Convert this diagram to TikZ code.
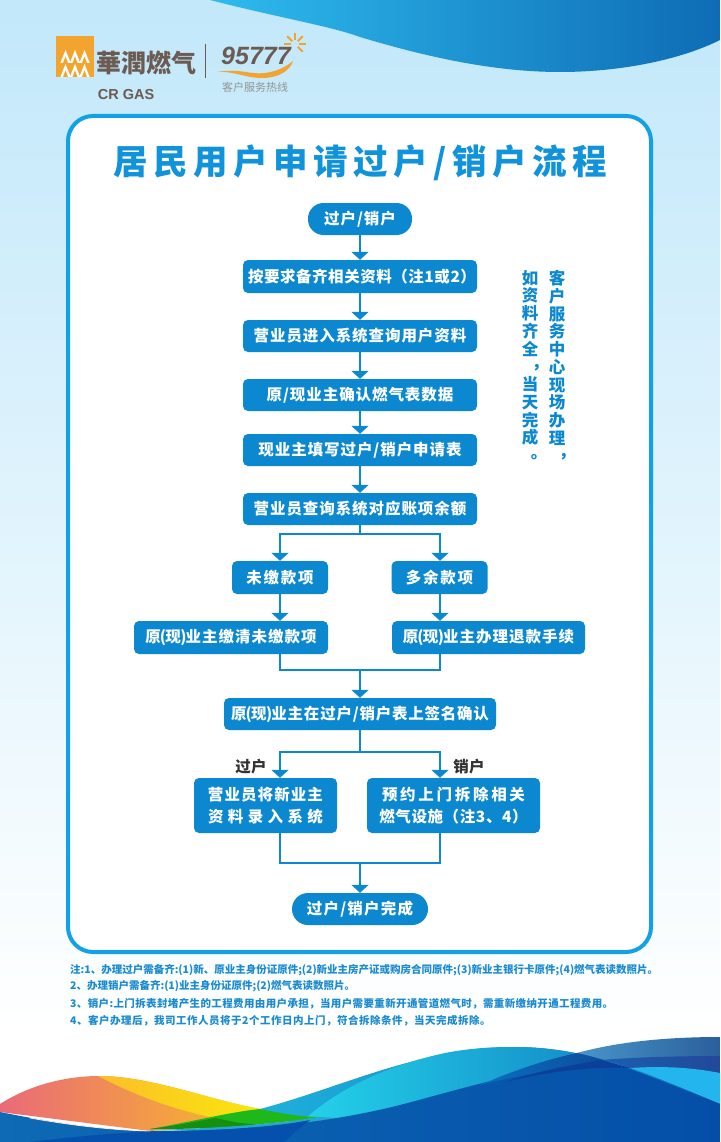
\documentclass[tikz,border=0pt]{standalone}
\usepackage{fontspec}
\setmainfont{Noto Sans CJK SC}
\newfontfamily\latinf{Liberation Sans}
\usetikzlibrary{arrows.meta,positioning}
\definecolor{flow}{HTML}{0C88D0}
\definecolor{frame}{HTML}{12A0E6}
\definecolor{titlec}{HTML}{1093DA}
\definecolor{brownlogo}{HTML}{6B5B53}
\definecolor{orangelogo}{HTML}{F3A42F}
\definecolor{notec}{HTML}{1A8BD0}
\definecolor{bgtop}{HTML}{C2E8FA}
\newcommand{\ls}[1]{\addfontfeature{LetterSpace=#1}}
\newcommand{\fsz}[1]{\fontsize{#1}{#1}\selectfont}
\newcommand{\vc}{\makebox[1em][l]{\hspace{.62em}\raisebox{.3em}{，}}}
\newcommand{\vp}{\makebox[1em][l]{\hspace{.55em}\raisebox{.2em}{。}}}
\newcommand{\yx}{{原\kern-1pt(\kern-.5pt现\kern-.5pt)\kern-1pt}}
\tikzset{
  x=1pt,y=-1pt,
  flowbox/.style={fill=flow,text=white,rounded corners=5pt,inner sep=0pt,font=\bfseries\fsz{15.5},align=center},
  flowpill/.style={flowbox,rounded corners=15.5pt},
  conn/.style={draw=flow,line width=2.4pt},
  arr/.style={conn,-{Triangle[width=17pt,length=8pt]}},
  notetext/.style={anchor=west,inner sep=0pt,text=notec,font=\bfseries\fsz{10.5}},
  sidetext/.style={inner sep=0pt,text=flow,align=center,anchor=north,font=\bfseries\fontsize{16.5}{17.75}\selectfont},
  branchlabel/.style={inner sep=0pt,text=black!80,font=\bfseries\fsz{15.5}},
}
\begin{document}
\begin{tikzpicture}
\useasboundingbox (0,0) rectangle (720,1142);
\clip (0,0) rectangle (720,1142);
% background
\shade[top color=bgtop,bottom color=white] (0,0) rectangle (720,1035);
\fill[white] (0,1035) rectangle (720,1142);
% top wave
\shade[left color={rgb,255:red,46;green,187;blue,238},right color={rgb,255:red,14;green,108;blue,181}]
  (210,0) .. controls (280,18) and (330,26) .. (360,37) .. controls (420,55) and (490,72) .. (560,72) .. controls (620,72) and (680,60) .. (720,40) -- (720,0) -- cycle;
% bottom waves
\shade[left color={rgb,255:red,74;green,152;blue,204},right color={rgb,255:red,42;green,95;blue,156}]
  (570,1055) .. controls (610,1043) and (660,1037) .. (720,1037) -- (720,1120) -- (570,1120) -- cycle;
\shade[left color={rgb,255:red,26;green,95;blue,176},right color={rgb,255:red,35;green,72;blue,154}]
  (600,1060) .. controls (640,1057) and (680,1056) .. (720,1056) -- (720,1080) -- (600,1080) -- cycle;
\fill[fill={rgb,255:red,34;green,181;blue,238}]
  (630,1068) .. controls (660,1066) and (690,1067) .. (720,1073) -- (720,1110) -- (650,1085) -- cycle;
\shade[left color={rgb,255:red,31;green,176;blue,220},right color={rgb,255:red,12;green,110;blue,181}]
  (260,1109) .. controls (340,1088) and (420,1047) .. (515,1047) .. controls (590,1047) and (650,1075) .. (720,1104) -- (720,1142) -- (260,1142) -- cycle;
\shade[left color={rgb,255:red,37;green,214;blue,236},right color={rgb,255:red,13;green,110;blue,185}]
  (285,1142) .. controls (310,1105) and (370,1068) .. (450,1052) .. controls (480,1047) and (500,1047) .. (515,1047) .. controls (590,1047) and (650,1075) .. (720,1104) -- (720,1142) -- cycle;
% orange
\shade[left color={rgb,255:red,233;green,106;blue,120},middle color={rgb,255:red,242;green,160;blue,58},right color={rgb,255:red,251;green,199;blue,28}]
  (0,1104) .. controls (30,1085) and (65,1076) .. (100,1076) .. controls (150,1076) and (210,1100) .. (260,1109) -- (290,1122) -- (150,1131) -- (0,1112) -- cycle;
\shade[left color={rgb,255:red,251;green,191;blue,42},right color={rgb,255:red,251;green,230;blue,12}]
  (98,1076) .. controls (150,1076) and (210,1100) .. (260,1109) -- (240,1116) -- (215,1118) .. controls (165,1108) and (125,1090) .. (98,1076) -- cycle;
% green
\fill[fill={rgb,255:red,31;green,184;blue,26}]
  (150,1129) .. controls (190,1122) and (230,1112) .. (260,1109) .. controls (280,1113) and (300,1117) .. (320,1117) .. controls (270,1125) and (200,1129) .. (150,1129) -- cycle;
\fill[fill={rgb,255:red,20;green,143;blue,16}]
  (150,1129) .. controls (172,1126) and (195,1122) .. (215,1118) -- (240,1123) -- (262,1125) .. controls (225,1128) and (190,1129) .. (150,1129) -- cycle;
% teal strip
\fill[fill={rgb,255:red,37;green,168;blue,208}]
  (150,1130) .. controls (200,1129) and (270,1125) .. (320,1117) -- (340,1118) -- (300,1128) -- (200,1131) -- cycle;
% deep blue
\shade[left color={rgb,255:red,14;green,106;blue,181},middle color={rgb,255:red,10;green,125;blue,212},right color={rgb,255:red,4;green,78;blue,168}]
  (0,1112) .. controls (50,1122) and (100,1130) .. (150,1131) .. controls (240,1131) and (320,1125) .. (400,1105) .. controls (450,1092) and (500,1076) .. (560,1068) .. controls (580,1066) and (600,1065) .. (625,1067) .. controls (660,1080) and (690,1092) .. (720,1104) -- (720,1142) -- (0,1142) -- cycle;
\draw[white!85!orange,line width=.8pt] (30,1118) .. controls (70,1125) and (110,1130) .. (150,1131);
\fill[fill={rgb,255:red,5;green,80;blue,172}]
  (30,1142) .. controls (80,1136) and (130,1131) .. (180,1131) .. controls (230,1130) and (280,1126) .. (310,1120) .. controls (300,1128) and (292,1134) .. (285,1142) -- cycle;
\shade[left color={rgb,255:red,11;green,112;blue,192},right color={rgb,255:red,12;green,69;blue,150}]
  (480,1085) .. controls (515,1070) and (545,1060) .. (577,1053) .. controls (595,1057) and (610,1062) .. (625,1067) .. controls (580,1066) and (530,1072) .. (480,1085) -- cycle;
\fill[fill={rgb,255:red,10;green,63;blue,154}]
  (505,1082) .. controls (540,1070) and (580,1064) .. (600,1060) -- (630,1068) .. controls (590,1066) and (545,1072) .. (505,1082) -- cycle;
% logo
\fill[orangelogo] (56,36) rectangle (94,77);
\foreach \px in {65.5,75,84.5}{
  \fill[white] (\px-5.2,63) -- (\px,50) -- (\px+5.2,63) -- (\px+2.6,63) -- (\px,56) -- (\px-2.6,63) -- cycle;
  \fill[white] (\px-5.2,77) -- (\px,64) -- (\px+5.2,77) -- (\px+2.6,77) -- (\px,70) -- (\px-2.6,77) -- cycle;
}
\node[inner sep=0pt,text=brownlogo,font=\bfseries\fsz{25}] (logocn) at (146,63) {華潤燃气};
\node[inner sep=0pt,text=brownlogo,font=\latinf\bfseries\fsz{14.5}] (logoen) at (126,95) {CR GAS};
\draw[brownlogo,line width=1pt] (205,44) -- (205,78);
\node[inner sep=0pt,text=brownlogo,font=\latinf\bfseries\itshape\fsz{25}] (logonum) at (256,56) {95777};
\fill[orangelogo] (217,72) .. controls (240,68) and (250,75) .. (265,73) .. controls (280,71) and (288,65) .. (293,61) .. controls (290,71) and (278,78) .. (262,78) .. controls (245,78) and (235,71) .. (217,72) -- cycle;
\foreach \a in {0,-45,-90,-135,180,45}{
  \draw[orangelogo,line width=1.8pt] (295,44) ++(\a:4) -- ++(\a:7);
}
\node[inner sep=0pt,text=gray!85,font=\fsz{11}] (logosub) at (255,87.5) {客户服务热线};
% frame
\draw[draw=frame,fill=white,line width=4pt,rounded corners=25pt] (68,116) rectangle (651,952);
% title
\node[inner sep=0pt,text=titlec,font=\bfseries\fsz{34.5}\ls{16}] (title) at (360,163) {居民用户申请过户/销户流程};
% flow nodes
\node[flowpill,minimum width=104pt,minimum height=32pt] (start) at (360,219) {\ls{6}过户/销户};
\node[flowbox,minimum width=234pt,minimum height=33pt] (docs) at (360,276.5) {\hspace*{4pt}\ls{3.5}按要求备齐相关资料（注1或2）};
\node[flowbox,minimum width=234pt,minimum height=32pt] (query) at (360,336) {\ls{6}营业员进入系统查询用户资料};
\node[flowbox,minimum width=234pt,minimum height=32pt] (meter) at (360,395) {\ls{6}原/现业主确认燃气表数据};
\node[flowbox,minimum width=234pt,minimum height=32pt] (apply) at (360,450) {\ls{6}现业主填写过户/销户申请表};
\node[flowbox,minimum width=234pt,minimum height=32pt] (balance) at (360,509) {\ls{6}营业员查询系统对应账项余额};
\node[flowbox,minimum width=96pt,minimum height=33pt] (unpaid) at (280,577.5) {\ls{11}未缴款项};
\node[flowbox,minimum width=96pt,minimum height=33pt] (extra) at (439.5,577.5) {\ls{11}多余款项};
\node[flowbox,minimum width=194pt,minimum height=33pt] (pay) at (231,637.5) {\yx\ls{6.5}业主缴清未缴款项};
\node[flowbox,minimum width=193pt,minimum height=33pt] (refund) at (488.5,637.5) {\yx\ls{6.5}业主办理退款手续};
\node[flowbox,minimum width=272pt,minimum height=32pt] (sign) at (360,714) {\yx\ls{5}业主在过户/销户表上签名确认};
\node[flowbox,minimum width=143pt,minimum height=55pt,font=\bfseries\fontsize{15.5}{21.5}\selectfont] (enter) at (265.5,805.5) {\ls{7}营业员将新业主\\\ls{28}资料录入系统};
\node[flowbox,minimum width=173pt,minimum height=55pt,font=\bfseries\fontsize{15.5}{21.5}\selectfont] (remove) at (453.5,805.5) {\ls{17.5}预约上门拆除相关\\\ls{4}燃气设施（注3、4）};
\node[flowpill,minimum width=136pt,minimum height=32pt,rounded corners=16pt] (done) at (360,909) {\ls{8}过户/销户完成};
% branch labels
\node[branchlabel] (lblt) at (251,767) {\ls{2}过户};
\node[branchlabel] (lblc) at (469,767) {\ls{2}销户};
% connector junctions
\coordinate (split1) at (360,534);
\coordinate (merge1) at (360,670);
\coordinate (split2) at (360,752);
\coordinate (merge2) at (360,863);
\coordinate (t1) at (280,534);
\coordinate (t2) at (440,534);
\coordinate (t3) at (280,752);
\coordinate (t4) at (440,752);
\coordinate (m1) at (280,670);
\coordinate (m2) at (440,670);
\coordinate (m3) at (280,863);
\coordinate (m4) at (440,863);
% connectors
\draw[arr] (start) -- (docs);
\draw[arr] (docs) -- (query);
\draw[arr] (query) -- (meter);
\draw[arr] (meter) -- (apply);
\draw[arr] (apply) -- (balance);
\draw[conn] (balance) -- (split1);
\draw[conn,line cap=rect] (t1) -- (t2);
\draw[arr] (t1) -- (t1 |- unpaid.north);
\draw[arr] (t2) -- (t2 |- extra.north);
\draw[arr] (t1 |- unpaid.south) -- (t1 |- pay.north);
\draw[arr] (t2 |- extra.south) -- (t2 |- refund.north);
\draw[conn,line join=miter] (t1 |- pay.south) -- (m1) -- (m2) -- (t2 |- refund.south);
\draw[arr] (merge1) -- (sign);
\draw[conn] (sign) -- (split2);
\draw[conn,line cap=rect] (t3) -- (t4);
\draw[arr] (t3) -- (t3 |- enter.north);
\draw[arr] (t4) -- (t4 |- remove.north);
\draw[conn,line join=miter] (t3 |- enter.south) -- (m3) -- (m4) -- (t4 |- remove.south);
\draw[arr] (merge2) -- (done);
% side note
\node[sidetext] (side1) at (557,270) {客\\户\\服\\务\\中\\心\\现\\场\\办\\理\\\vc};
\node[sidetext] (side2) at (530,270) {如\\资\\料\\齐\\全\\\vc\\当\\天\\完\\成\\\vp};
% notes
\node[notetext] (n1) at (70,970) {注:1、办理过户需备齐:(1)新、原业主身份证原件;(2)新业主房产证或购房合同原件;(3)新业主银行卡原件;(4)燃气表读数照片。};
\node[notetext] (n2) at (70,986) {2、办理销户需备齐:(1)业主身份证原件;(2)燃气表读数照片。};
\node[notetext,font=\bfseries\fsz{10.5}\ls{3.5}] (n3) at (70,1004) {3、销户:上门拆表封堵产生的工程费用由用户承担，当用户需要重新开通管道燃气时，需重新缴纳开通工程费用。};
\node[notetext,font=\bfseries\fsz{10.5}\ls{4.8}] (n4) at (70,1021) {4、客户办理后，我司工作人员将于2个工作日内上门，符合拆除条件，当天完成拆除。};
\end{tikzpicture}
\end{document}
